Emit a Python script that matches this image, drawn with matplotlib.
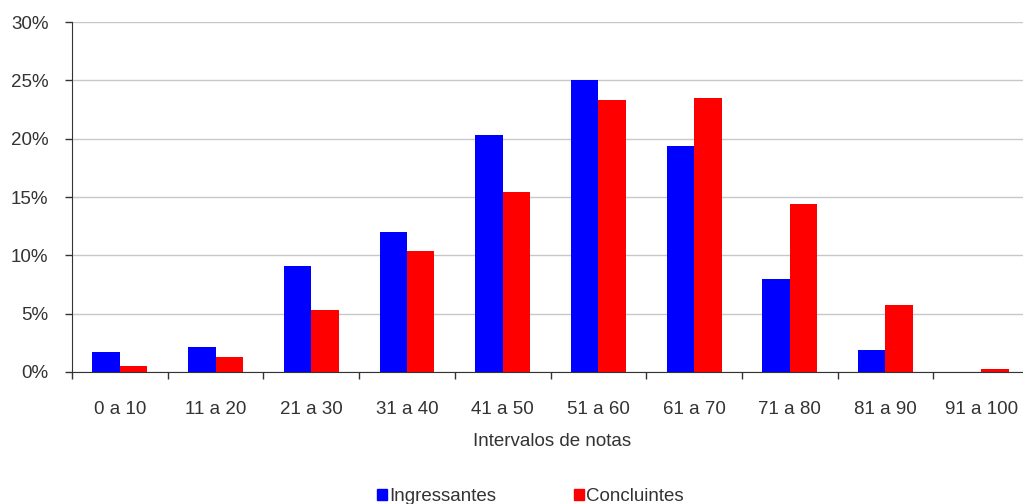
import numpy as np
import matplotlib.pyplot as plt
from matplotlib.ticker import FuncFormatter
from matplotlib.patches import Patch

plt.rcParams['font.family'] = ['Liberation Sans', 'DejaVu Sans']

categorias = ['0 a 10', '11 a 20', '21 a 30', '31 a 40', '41 a 50',
              '51 a 60', '61 a 70', '71 a 80', '81 a 90', '91 a 100']
ingressantes = [1.7, 2.1, 9.1, 12.0, 20.3, 25.0, 19.4, 8.0, 1.9, 0.0]
concluintes = [0.55, 1.25, 5.3, 10.4, 15.4, 23.3, 23.5, 14.4, 5.7, 0.25]

fs = 13.5
fig = plt.figure(figsize=(10.23, 5.04), dpi=100)
# o eixo continua um pouco alem da borda direita (como no original, cortado)
ax = fig.add_axes([0.0704, 0.262, 0.9355, 0.694])

x = np.arange(len(categorias))
w = 0.287
ax.bar(x - w / 2, ingressantes, width=w, color='#0000ff', zorder=3)
ax.bar(x + w / 2, concluintes, width=w, color='#ff0000', zorder=3)

ax.set_xlim(-0.5, len(categorias) - 0.5)
ax.set_ylim(0, 30)
ax.set_yticks(range(0, 31, 5))
ax.yaxis.set_major_formatter(FuncFormatter(lambda v, p: f'{int(v)}%'))
ax.grid(axis='y', color='#c8c8c8', linewidth=1, zorder=0)

# ticks entre as categorias, rotulos no centro
ax.set_xticks(np.arange(-0.5, len(categorias), 1))
ax.set_xticklabels([])
ax.set_xticks(x, minor=True)
ax.set_xticklabels(categorias, minor=True)
ax.tick_params(axis='x', which='major', direction='out', length=5, width=1, color='#333333')
ax.tick_params(axis='x', which='minor', length=0, pad=21, labelsize=fs, labelcolor='#333333')
ax.tick_params(axis='y', direction='out', length=5, width=1, color='#333333',
               labelsize=fs, labelcolor='#333333', pad=12)

for s in ['top', 'right']:
    ax.spines[s].set_visible(False)
ax.spines['left'].set_color('#333333')
ax.spines['bottom'].set_color('#333333')

fig.text(0.54, 0.125, 'Intervalos de notas', ha='center', va='center',
         fontsize=fs, color='#333333')

handles = [Patch(color='#0000ff', label='Ingressantes'),
           Patch(color='#ff0000', label='Concluintes')]
fig.legend(handles=handles, loc='center left', bbox_to_anchor=(0.3595, 0.015), ncol=2,
           frameon=False, fontsize=fs, handlelength=0.55, handleheight=0.55,
           handletextpad=0.1, columnspacing=4.15, borderpad=0, labelcolor='#333333')

fig.savefig('out.png', dpi=100)
